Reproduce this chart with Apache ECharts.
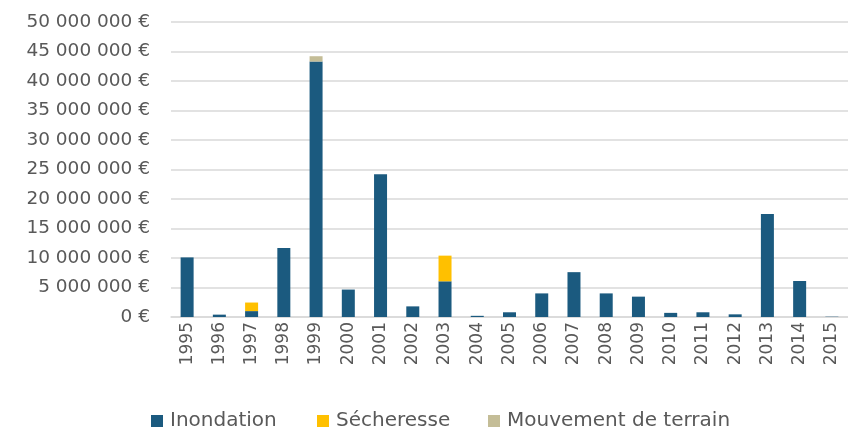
<!DOCTYPE html>
<html>
<head>
<meta charset="utf-8">
<script src="https://cdn.jsdelivr.net/npm/echarts@6/dist/echarts.min.js"></script>
<style>
  html, body { margin: 0; padding: 0; background: #fff; }
  #chart { width: 848px; height: 430px; }
</style>
</head>
<body>
<div id="chart"></div>
<script type="text/javascript">
var years = ['1995','1996','1997','1998','1999','2000','2001','2002','2003','2004','2005',
             '2006','2007','2008','2009','2010','2011','2012','2013','2014','2015'];
var inondation = [10100000, 400000, 1000000, 11700000, 43300000, 4650000, 24200000, 1800000, 6050000, 200000, 800000,
                  4000000, 7600000, 4000000, 3450000, 700000, 800000, 450000, 17450000, 6100000, 50000];
var secheresse = [0, 0, 1450000, 0, 0, 0, 0, 0, 4350000, 0, 0,
                  0, 0, 0, 0, 0, 0, 0, 0, 0, 0];
var mouvement = [0, 0, 0, 0, 900000, 0, 0, 0, 0, 0, 0,
                 0, 0, 0, 0, 0, 0, 0, 0, 0, 0];
var names = ['Inondation', 'Sécheresse', 'Mouvement de terrain'];

var chart = echarts.init(document.getElementById('chart'));

function euros(v) {
  return String(v).replace(/\B(?=(\d{3})+(?!\d))/g, '\u00a0') + '\u00a0€';
}

var font = 'DejaVu Sans';

// une légende par entrée pour caler les positions
function leg(name, x) {
  return {
    top: 406, left: x - 5,
    itemWidth: 12, itemHeight: 12,
    icon: 'rect',
    textStyle: { color: '#595959', fontSize: 20, fontFamily: font, padding: [0, 0, 0, 2] },
    data: [name]
  };
}

var option = {
  animation: false,
  textStyle: { fontFamily: font },
  legend: [leg(names[0], 151), leg(names[1], 317), leg(names[2], 488)],
  grid: { left: 171, right: 0, top: 22, bottom: 113 },
  xAxis: {
    type: 'category',
    data: years,
    axisTick: { show: false },
    axisLine: { lineStyle: { color: '#d9d9d9', width: 1.5 } },
    axisLabel: { rotate: 90, color: '#595959', fontSize: 17, margin: 5 }
  },
  yAxis: {
    type: 'value',
    min: 0,
    max: 50000000,
    interval: 5000000,
    axisLine: { show: false },
    axisTick: { show: false },
    splitLine: { lineStyle: { color: '#d9d9d9', width: 1.5 } },
    axisLabel: { color: '#595959', fontSize: 18.5, margin: 21, formatter: euros }
  },
  series: [
    { name: names[0], type: 'bar', stack: 'total', barWidth: 13,
      itemStyle: { color: '#1B5A7F' }, data: inondation },
    { name: names[1], type: 'bar', stack: 'total', barWidth: 13,
      itemStyle: { color: '#FFC000' }, data: secheresse },
    { name: names[2], type: 'bar', stack: 'total', barWidth: 13,
      itemStyle: { color: '#C4BD97' }, data: mouvement }
  ]
};

chart.setOption(option);
</script>
</body>
</html>
